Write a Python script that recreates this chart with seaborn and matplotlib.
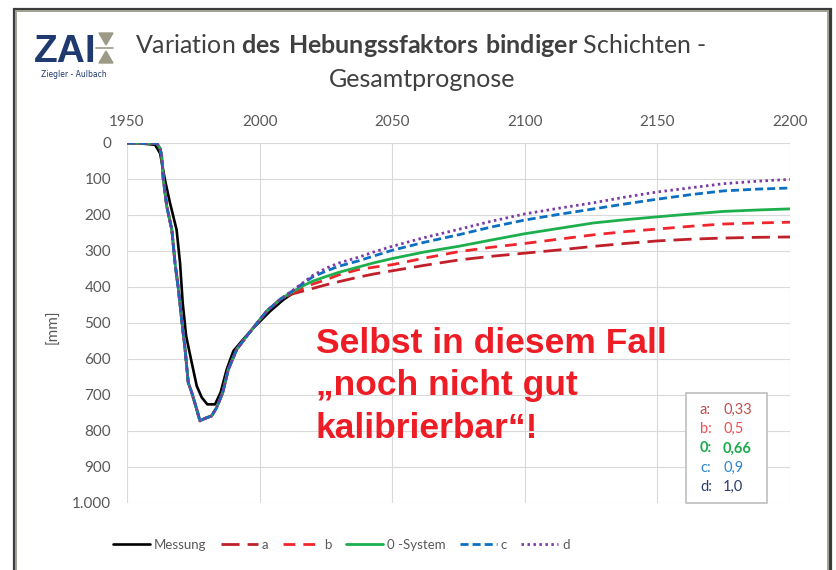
import seaborn as sns
import matplotlib.pyplot as plt
from matplotlib.patches import Rectangle, Polygon
from matplotlib.lines import Line2D
from matplotlib.ticker import FuncFormatter

# Messung (Jahr, Setzung in mm)
jahre_messung = [1950, 1955, 1960.6, 1962.5, 1964.3, 1966.2, 1968.7, 1970, 1971, 1972.3,
                 1974.4, 1976.3, 1978.2, 1980.3, 1983.2, 1985.3, 1987.6, 1990.1, 1993.3,
                 1997.1, 2000.2, 2004, 2009, 2012.8]
messung = [0, 1, 5, 29, 102, 166, 241, 333, 444, 536, 610, 675, 707, 726, 726, 693, 629,
           578, 550, 518, 495, 467, 435, 416]

# Modell bis 2008 (alle Varianten gleich)
jahre_modell = [1950, 1961.2, 1962.5, 1963.1, 1963.7, 1965, 1966.9, 1968.1, 1969.4, 1970.6,
                1971.9, 1973.1, 1974.4, 1976.3, 1977.5, 1979.4, 1981.9, 1983.8, 1986.1,
                1988.2, 1991.4, 1995.2, 1999.6, 2002.7]
modell = [0, 1, 15, 38, 102, 176, 241, 333, 407, 490, 573, 666, 693, 740, 772, 765, 758,
          735, 693, 629, 573, 536, 495, 467]

# Prognose ab 2008 je Hebungsfaktor
jahre_prognose = [2008, 2012, 2016, 2020, 2025, 2030, 2037, 2043, 2050, 2062, 2075, 2087,
                  2100, 2113, 2126, 2138, 2150, 2163, 2175, 2188, 2200]
prognose_a = [433, 420, 412, 404, 394, 385, 373, 364, 355, 340, 325, 315, 306, 297, 287,
              279, 272, 267, 264, 262, 261]
prognose_b = [433, 418, 405, 392, 380, 366, 352, 345, 338, 320, 302, 290, 279, 267, 255,
              246, 239, 231, 225, 222, 220]
prognose_0 = [433, 415, 398, 384, 371, 359, 345, 333, 321, 303, 287, 270, 252, 237, 222,
              213, 205, 197, 190, 186, 183]
prognose_c = [433, 413, 392, 372, 356, 342, 328, 314, 298, 276, 255, 234, 214, 198, 183,
              169, 156, 143, 133, 128, 125]
prognose_d = [433, 412, 390, 368, 348, 333, 318, 303, 287, 263, 240, 218, 197, 181, 166,
              150, 136, 124, 113, 106, 101]

faktor_namen = ['a:', 'b:', '0:', 'c:', 'd:']
faktor_werte = ['0,33', '0,5', '0,66', '0,9', '1,0']

sns.set_theme(style="white")
plt.rcParams['font.family'] = ['Lato', 'DejaVu Sans']
plt.rcParams['mathtext.fontset'] = 'custom'
plt.rcParams['mathtext.rm'] = 'Lato'
plt.rcParams['mathtext.bf'] = 'Lato:bold'
plt.rcParams['lines.scale_dashes'] = False

B, H = 836, 570
fig = plt.figure(figsize=(B / 100, H / 100), dpi=100)


def fx(px):
    return px / B


def fy(py):
    return 1 - py / H


ax = fig.add_axes([fx(127), fy(503), (790 - 127) / B, (503 - 143) / H])

grau = '#595959'
serien = [
    ('Messung', jahre_messung, messung, 'black', '-', 1.9),
    ('a', jahre_modell + jahre_prognose, modell + prognose_a, '#C0202A', (0, (13, 5.8)), 2.0),
    ('b', jahre_modell + jahre_prognose, modell + prognose_b, '#F0262C', (0, (8.5, 5.8)), 2.0),
    ('0 -System', jahre_modell + jahre_prognose, modell + prognose_0, '#1DAF4E', '-', 2.0),
    ('c', jahre_modell + jahre_prognose, modell + prognose_c, '#0B6FC2', (0, (5.8, 2.9)), 2.0),
    ('d', jahre_modell + jahre_prognose, modell + prognose_d, '#7B3BA6', (0, (1.8, 2.5)), 2.0),
]
for name, x, y, farbe, stil, lw in serien:
    sns.lineplot(x=x, y=y, ax=ax, color=farbe, linestyle=stil, linewidth=lw,
                 label=name, estimator=None, sort=False)

ax.set_xlim(1950, 2200)
ax.set_ylim(1000, 0)
ax.set_xticks(range(1950, 2201, 50))
ax.set_yticks(range(0, 1001, 100))
ax.yaxis.set_major_formatter(FuncFormatter(lambda v, p: f"{int(v):,}".replace(',', '.')))
ax.xaxis.tick_top()
ax.tick_params(axis='x', length=0, pad=10, labelsize=11, labelcolor=grau)
ax.tick_params(axis='y', length=0, pad=11.5, labelsize=11, labelcolor=grau)
ax.grid(True, color='#D9D9D9', linewidth=0.8)
for s in ax.spines.values():
    s.set_visible(False)
ax.set_xlabel('')
ax.set_ylabel('')

fig.text(fx(53), fy(327), '[mm]', rotation=90, ha='center', va='center',
         fontsize=11, color=grau)

# Legende unten
handles, labels = ax.get_legend_handles_labels()
ax.legend_.remove()
fig.legend(handles, labels, loc='center left', bbox_to_anchor=(fx(113), fy(545)),
           ncol=6, frameon=False, fontsize=9.5, handlelength=2.8, handletextpad=0.3,
           columnspacing=1.1, borderpad=0, borderaxespad=0, labelcolor=grau)

# Titel
fig.text(fx(421), fy(53),
         r"Variation $\mathbf{des\ Hebungssfaktors\ bindiger}$ Schichten -",
         ha='center', va='baseline', fontsize=18, color='#404040')
fig.text(fx(422), fy(87), 'Gesamtprognose', ha='center', va='baseline',
         fontsize=18, color='#404040')

# roter Hinweis
for zeile, basis in zip(['Selbst in diesem Fall', '\u201enoch nicht gut',
                         'kalibrierbar\u201c!'], [352.7, 395.5, 438.3]):
    fig.text(fx(316), fy(basis), zeile, ha='left', va='baseline', fontsize=25.5,
             fontweight='bold', family='Liberation Sans', color='#EE1C25')

# Kasten mit Hebungsfaktoren
fig.patches.append(Rectangle((fx(686), fy(503)), (767 - 686) / B, (503 - 393) / H,
                             transform=fig.transFigure, facecolor='white',
                             edgecolor='#BFBFBF', linewidth=1.2))
farben_kasten = ['#C0504D', '#F04E50', '#1AAB4B', '#2E86D0', '#2A3D6B']
for i, (n, w, f) in enumerate(zip(faktor_namen, faktor_werte, farben_kasten)):
    yy = 410 + i * 19.2
    gewicht = 'bold' if n == '0:' else 'normal'
    fig.text(fx(700), fy(yy), n, ha='left', va='center', fontsize=10.5, color=f,
             fontweight=gewicht)
    fig.text(fx(723), fy(yy), w, ha='left', va='center', fontsize=10.5, color=f,
             fontweight=gewicht)

# Logo
fig.text(fx(34), fy(62), 'ZAI', ha='left', va='baseline', fontsize=28,
         fontweight='heavy', family='Liberation Sans', color='#1F3A6E')
oliv = '#9C9A86'
fig.patches.append(Polygon([(fx(99), fy(33)), (fx(113), fy(33)), (fx(106), fy(45))],
                           closed=True, transform=fig.transFigure, color=oliv))
fig.patches.append(Polygon([(fx(99), fy(63)), (fx(113), fy(63)), (fx(106), fy(51))],
                           closed=True, transform=fig.transFigure, color=oliv))
fig.lines.append(Line2D([fx(96), fx(113)], [fy(48), fy(48)], transform=fig.transFigure,
                        color=oliv, linewidth=1.2))
fig.text(fx(74), fy(77), 'Ziegler - Aulbach', ha='center', va='baseline', fontsize=5.5,
         family='DejaVu Sans', color='#1F3A6E')

# Rahmen
fig.patches.append(Rectangle((fx(13.5), fy(600)), (830 - 13.5) / B, (600 - 8.5) / H,
                             transform=fig.transFigure, fill=False,
                             edgecolor='#3C3C3C', linewidth=2.3))
fig.patches.append(Rectangle((fx(15.5), fy(600)), (827.5 - 15.5) / B, (600 - 11) / H,
                             transform=fig.transFigure, fill=False,
                             edgecolor='#A3A394', linewidth=1.4))

fig.savefig('out.png', dpi=100)
